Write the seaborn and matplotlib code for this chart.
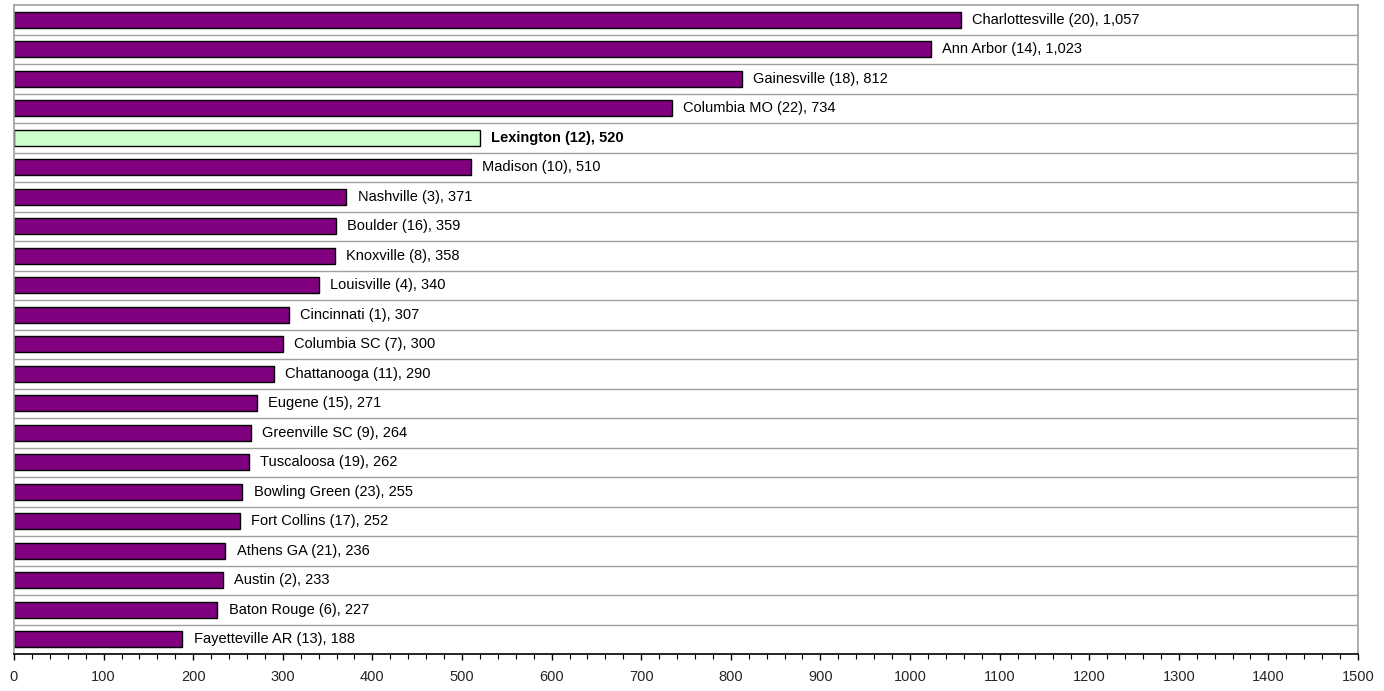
import matplotlib
matplotlib.use("Agg")
import matplotlib.pyplot as plt
from matplotlib.ticker import MultipleLocator
import seaborn as sns
import pandas as pd

cities = ["Charlottesville (20)", "Ann Arbor (14)", "Gainesville (18)", "Columbia MO (22)",
          "Lexington (12)", "Madison (10)", "Nashville (3)", "Boulder (16)", "Knoxville (8)",
          "Louisville (4)", "Cincinnati (1)", "Columbia SC (7)", "Chattanooga (11)",
          "Eugene (15)", "Greenville SC (9)", "Tuscaloosa (19)", "Bowling Green (23)",
          "Fort Collins (17)", "Athens GA (21)", "Austin (2)", "Baton Rouge (6)",
          "Fayetteville AR (13)"]
values = [1057, 1023, 812, 734, 520, 510, 371, 359, 358, 340, 307, 300, 290, 271, 264,
          262, 255, 252, 236, 233, 227, 188]
highlight = "Lexington (12)"

x_ticks = list(range(0, 1501, 100))

df = pd.DataFrame({"city": cities, "value": values})
palette = {c: ("#CCFFCC" if c == highlight else "#800080") for c in cities}

sns.set_theme(style="white")
plt.rcParams["font.family"] = ["Liberation Sans", "DejaVu Sans"]

fig = plt.figure(figsize=(13.84, 6.91), dpi=100)
ax = fig.add_axes([14 / 1384, 1 - 654 / 691, (1358 - 14) / 1384, (654 - 5) / 691])

sns.barplot(data=df, y="city", x="value", hue="city", palette=palette, legend=False,
            orient="h", width=0.55, edgecolor="black", linewidth=1.0, ax=ax, saturation=1)

ax.set_xlim(0, 1500)
ax.set_ylim(len(cities) - 0.5, -0.5)
ax.set_xticks(x_ticks)
ax.set_xticklabels([str(t) for t in x_ticks], fontsize=10.5)
ax.xaxis.set_minor_locator(MultipleLocator(20))
ax.tick_params(axis="x", which="major", direction="out", length=4.5, width=1, color="black", pad=7, bottom=True)
ax.tick_params(axis="x", which="minor", direction="out", length=3.5, width=0.8, color="black", bottom=True)
ax.set_yticks([])
ax.set_xlabel("")
ax.set_ylabel("")

for i in range(len(cities) - 1):
    ax.axhline(i + 0.5, color="#A0A0A0", linewidth=1.0, zorder=0)

for s in ["top", "left", "right"]:
    ax.spines[s].set_color("#A0A0A0")
    ax.spines[s].set_linewidth(1.2)
ax.spines["bottom"].set_color("black")
ax.spines["bottom"].set_linewidth(1.2)

for i, (c, v) in enumerate(zip(cities, values)):
    ax.annotate(f"{c}, {v:,}", xy=(v, i), xytext=(8, 0), textcoords="offset points",
                va="center", ha="left", fontsize=10.5,
                fontweight="bold" if c == highlight else "normal", color="black")

fig.savefig("out.png", dpi=100)
